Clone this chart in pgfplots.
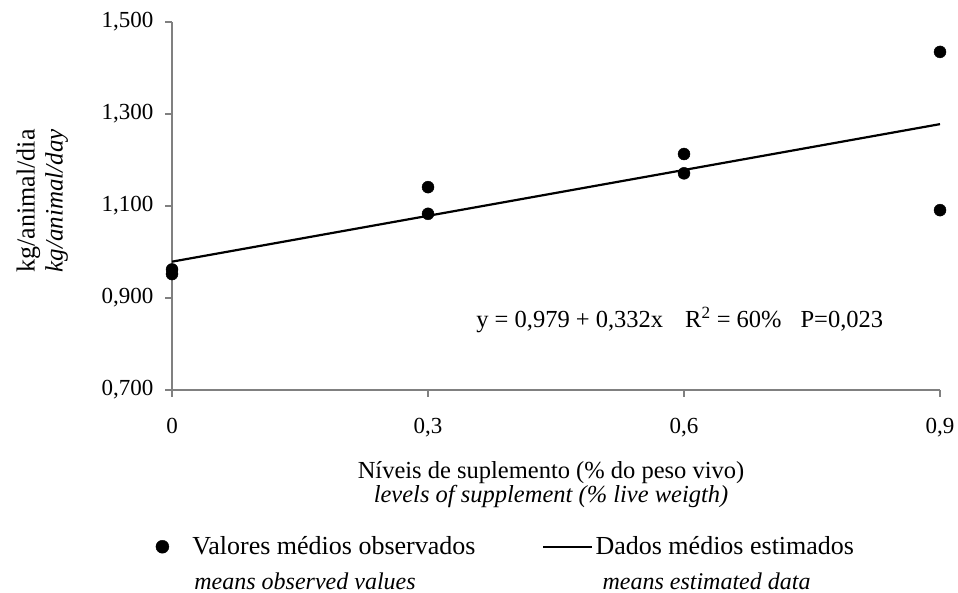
\documentclass[border=0pt]{standalone}
\usepackage{fontspec}
\setmainfont{Liberation Serif}
\usepackage{pgfplots}
\pgfplotsset{compat=1.18}
% legend symbols raised to the first line of each two-line entry
\pgfplotsset{
  dot legend/.style={legend image code/.code={%
    \fill[black] (0pt,17pt) circle (6.5pt);
    \path[draw=none, fill=none] (-6.5pt,17pt) -- (28pt,17pt);}},
  longline legend/.style={legend image code/.code={%
    \draw[##1] (0pt,17pt) -- (49pt,17pt);
    \path[draw=none, fill=none] (-66pt,17pt) -- (49pt,17pt);}},
}

\begin{document}
\begin{tikzpicture}
\begin{axis}[
  scale only axis,
  width=768pt, height=368pt,
  xmin=0, xmax=0.9, ymin=0.7, ymax=1.5,
  axis lines=left,
  axis line style={gray, line width=1.2pt, -},
  xtick={0,0.3,0.6,0.9},
  ytick={0.7,0.9,1.1,1.3,1.5},
  tick style={gray, line width=1.2pt},
  tick align=outside,
  major tick length=7pt,
  tick label style={font=\fontsize{23}{27}\selectfont},
  xticklabel style={/pgf/number format/.cd, fixed, precision=1, use comma},
  yticklabel style={/pgf/number format/.cd, fixed, fixed zerofill, precision=3, use comma, 1000 sep={}},
  /pgf/number format/assume math mode=true,
  xticklabel shift=18pt,
  yticklabel shift=8pt,
  xlabel={Níveis de suplemento (\% do peso vivo)\\{\itshape levels of supplement (\% live weigth)}},
  xlabel style={at={(axis description cs:0.4935,-0.258)}, anchor=center, align=center,
    font=\fontsize{24.5}{24}\selectfont},
  ylabel={{\fontsize{26}{28}\selectfont kg/animal/dia}\\{\fontsize{25}{28}\selectfont\itshape kg/animal/day}},
  ylabel style={at={(axis description cs:-0.169,0.514)}, anchor=center, rotate=0, align=center,
    font=\fontsize{26}{28}\selectfont},
  clip=false,
  legend columns=2,
  legend style={draw=none, fill=none, inner sep=0pt, column sep=0pt,
    at={(axis description cs:-0.0215,-0.392)}, anchor=north west,
    cells={align=left, anchor=west, inner sep=0pt},
    font=\fontsize{26}{35}\selectfont},
]
\addplot[only marks, mark=*, mark size=6pt, black, dot legend] coordinates {
  (0,0.962) (0,0.952) (0.3,1.141) (0.3,1.083)
  (0.6,1.213) (0.6,1.171) (0.9,1.435) (0.9,1.091)
};
\addlegendentry{Valores médios observados\\{\fontsize{24}{35}\selectfont\itshape\hspace*{2pt}means observed values}}
\addplot[black, line width=2.2pt, mark=none, longline legend] coordinates {
  (0,0.979) (0.9,1.278)
};
\addlegendentry{Dados médios estimados\\{\fontsize{24}{35}\selectfont\itshape\hspace*{7pt}means estimated data}}
\node[anchor=base, font=\fontsize{24.5}{28}\selectfont] at (axis cs:0.595,0.835)
  {y = 0,979 + 0,332x\hspace{22pt}R\textsuperscript{2} = 60\%\hspace{19pt}P=0,023};
\coordinate (bl) at (rel axis cs:-0.224,-0.5516);
\coordinate (tr) at (rel axis cs:1.0234,1.0598);
\end{axis}
\pgfresetboundingbox
\path[use as bounding box] (bl) rectangle (tr);
\end{tikzpicture}
\end{document}
